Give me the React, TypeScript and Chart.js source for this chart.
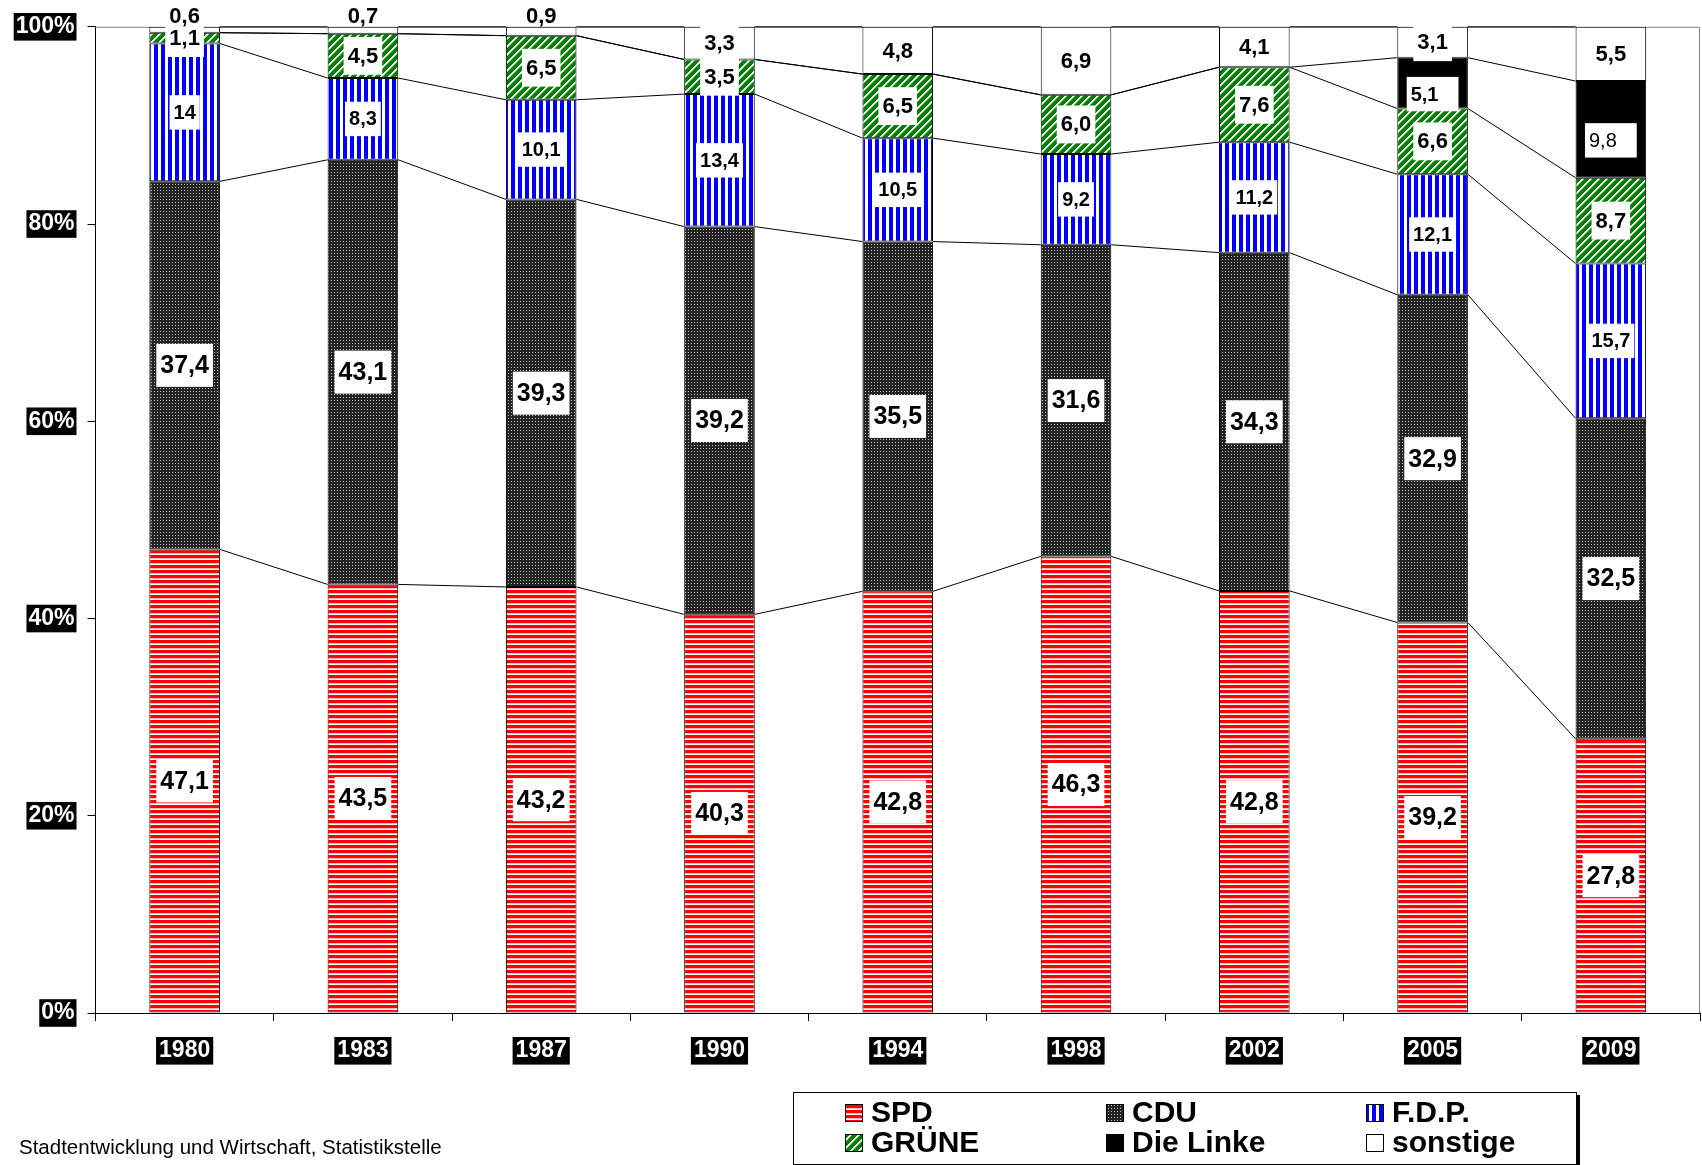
import { useEffect, useRef } from 'react';
import { Chart, registerables } from 'chart.js';

Chart.register(...registerables);

// ---------------- data ----------------
const YEARS = ['1980', '1983', '1987', '1990', '1994', '1998', '2002', '2005', '2009'];
const SPD = [47.1, 43.5, 43.2, 40.3, 42.8, 46.3, 42.8, 39.2, 27.8];
const CDU = [37.4, 43.1, 39.3, 39.2, 35.5, 31.6, 34.3, 32.9, 32.5];
const FDP = [14, 8.3, 10.1, 13.4, 10.5, 9.2, 11.2, 12.1, 15.7];
const GRUENE = [1.1, 4.5, 6.5, 3.5, 6.5, 6.0, 7.6, 6.6, 8.7];
const LINKE = [0, 0, 0, 0, 0, 0, 0, 5.1, 9.8];
const SONSTIGE = [0.6, 0.7, 0.9, 3.3, 4.8, 6.9, 4.1, 3.1, 5.5];
const SERIES_NAMES = ['SPD', 'CDU', 'F.D.P.', 'GRÜNE', 'Die Linke', 'sonstige'];
const SERIES_VALUES = [SPD, CDU, FDP, GRUENE, LINKE, SONSTIGE];
const Y_TICKS = [0, 20, 40, 60, 80, 100];
const SOURCE_TEXT = 'Stadtentwicklung und Wirtschaft, Statistikstelle';

// ---------------- styles ----------------
const FONT = '"Liberation Sans", Arial, Helvetica, sans-serif';
const W = 1702;
const H = 1165;

type LabelStyle = { size: number; dy?: number; extraRight?: number; plainYears?: string[] };
const LABEL_STYLES: Record<string, LabelStyle> = {
  SPD: { size: 25 },
  CDU: { size: 25 },
  'F.D.P.': { size: 20 },
  'GRÜNE': { size: 22 },
  'Die Linke': { size: 20, dy: 11, extraRight: 16, plainYears: ['2009'] },
  sonstige: { size: 22 },
};

function fmt(v: number): string {
  if (Number.isInteger(v) && v >= 10) return String(v);
  return v.toFixed(1).replace('.', ',');
}

function makeFills(ctx: CanvasRenderingContext2D): (CanvasPattern | string)[] {
  const mk = (w: number, h: number, paint: (g: CanvasRenderingContext2D) => void) => {
    const c = document.createElement('canvas');
    c.width = w;
    c.height = h;
    const g = c.getContext('2d')!;
    paint(g);
    return ctx.createPattern(c, 'repeat')!;
  };
  const spd = mk(1, 5, (g) => {
    g.fillStyle = '#ffffff';
    g.fillRect(0, 0, 1, 5);
    g.fillStyle = '#ff0000';
    g.fillRect(0, 0, 1, 3);
    g.fillStyle = '#ffb8b8';
    g.fillRect(0, 3, 1, 1);
  });
  const cdu = mk(3, 3, (g) => {
    g.fillStyle = '#232323';
    g.fillRect(0, 0, 3, 3);
    g.fillStyle = '#c4c4c4';
    g.fillRect(1, 1, 1, 1);
  });
  const fdp = mk(7, 1, (g) => {
    g.fillStyle = '#ffffff';
    g.fillRect(0, 0, 7, 1);
    g.fillStyle = '#0000ff';
    g.fillRect(0, 0, 4, 1);
  });
  const gru = mk(8, 8, (g) => {
    for (let y = 0; y < 8; y++) {
      for (let x = 0; x < 8; x++) {
        const d = (x + y) % 8;
        g.fillStyle = d === 0 || d === 1 ? '#ffffff' : d === 2 ? '#8cc88c' : '#008000';
        g.fillRect(x, y, 1, 1);
      }
    }
  });
  return [spd, cdu, fdp, gru, '#000000', '#ffffff'];
}

const overlayPlugin = {
  id: 'overlay',
  beforeDatasetsDraw(chart: any) {
    const { ctx, chartArea: a } = chart;
    ctx.save();
    ctx.strokeStyle = '#7f7f7f';
    ctx.lineWidth = 1;
    ctx.beginPath();
    ctx.moveTo(a.left, a.top + 0.5);
    ctx.lineTo(a.right - 0.5, a.top + 0.5);
    ctx.lineTo(a.right - 0.5, a.bottom);
    ctx.stroke();
    ctx.restore();
  },
  afterDatasetsDraw(chart: any) {
    const { ctx } = chart;
    const datasets = chart.data.datasets;
    const metas = datasets.map((_: any, di: number) => chart.getDatasetMeta(di));
    ctx.save();
    // series lines
    ctx.strokeStyle = '#000';
    ctx.lineWidth = 1;
    metas.forEach((meta: any) => {
      for (let i = 0; i < meta.data.length - 1; i++) {
        const p = meta.data[i];
        const q = meta.data[i + 1];
        ctx.beginPath();
        ctx.moveTo(p.x + p.width / 2, p.y);
        ctx.lineTo(q.x - q.width / 2, q.y);
        ctx.stroke();
      }
    });
    // data labels
    const topMeta = metas[metas.length - 1];
    datasets.forEach((ds: any, di: number) => {
      const st = LABEL_STYLES[ds.label];
      metas[di].data.forEach((bar: any, i: number) => {
        const v = ds.rawValues[i];
        if (!v) return;
        const text = fmt(v);
        const weight = st.plainYears && st.plainYears.includes(YEARS[i]) ? 'normal' : 'bold';
        ctx.font = `${weight} ${st.size}px ${FONT}`;
        const tw = ctx.measureText(text).width;
        if (v < 1) {
          const stackTop = topMeta.data[i].y;
          ctx.fillStyle = '#000';
          ctx.textAlign = 'center';
          ctx.textBaseline = 'alphabetic';
          ctx.fillText(text, bar.x, stackTop - 4);
          return;
        }
        const top = Math.min(bar.y, bar.base);
        const bot = Math.max(bar.y, bar.base);
        const cy = (top + bot) / 2 + (st.dy || 0);
        const bh = st.size * 1.72;
        const bw = tw + 8 + (st.extraRight || 0);
        const bx = bar.x - bw / 2;
        ctx.fillStyle = '#fff';
        ctx.fillRect(bx, cy - bh / 2, bw, bh);
        ctx.fillStyle = '#000';
        ctx.textAlign = 'left';
        ctx.textBaseline = 'middle';
        ctx.fillText(text, bx + 4, cy + 1);
      });
    });
    ctx.restore();
  },
  afterDraw(chart: any) {
    const { ctx } = chart;
    const datasets = chart.data.datasets;
    ctx.save();
    // legend box
    const L = { x: 793, y: 1092, w: 783, h: 72 };
    ctx.fillStyle = '#000';
    ctx.fillRect(L.x + L.w, L.y + 3, 4, L.h + 10);
    ctx.fillStyle = '#fff';
    ctx.fillRect(L.x, L.y, L.w, L.h);
    ctx.strokeStyle = '#000';
    ctx.lineWidth = 1;
    ctx.strokeRect(L.x + 0.5, L.y + 0.5, L.w, L.h);
    const colX = [845, 1106, 1366];
    const rowY = [1113, 1143];
    ctx.font = `bold 30px ${FONT}`;
    ctx.textAlign = 'left';
    ctx.textBaseline = 'middle';
    datasets.forEach((ds: any, k: number) => {
      const ix = colX[k % 3];
      const cy = rowY[Math.floor(k / 3)];
      const iy = Math.round(cy - 9);
      ctx.fillStyle = ds.backgroundColor;
      ctx.fillRect(ix, iy, 18, 18);
      ctx.strokeStyle = '#000';
      ctx.strokeRect(ix + 0.5, iy + 0.5, 17, 17);
      ctx.fillStyle = '#000';
      ctx.fillText(ds.label, ix + 26, cy + 1);
    });
    // source text
    ctx.font = `20.5px ${FONT}`;
    ctx.fillStyle = '#000';
    ctx.textBaseline = 'middle';
    ctx.fillText(SOURCE_TEXT, 19, 1148);
    ctx.restore();
  },
};

export default function App() {
  const ref = useRef<HTMLCanvasElement>(null);
  useEffect(() => {
    document.body.style.margin = '0';
    const canvas = ref.current!;
    const ctx = canvas.getContext('2d')!;
    const fills = makeFills(ctx);
    const totals = YEARS.map((_, i) => SERIES_VALUES.reduce((s, arr) => s + arr[i], 0));
    Chart.defaults.font.family = FONT;
    const chart = new Chart(canvas, {
      type: 'bar',
      data: {
        labels: YEARS,
        datasets: SERIES_NAMES.map((name, k) => ({
          label: name,
          data: SERIES_VALUES[k].map((v, i) => (v / totals[i]) * 100),
          rawValues: SERIES_VALUES[k],
          backgroundColor: fills[k],
          borderColor: '#000',
          borderWidth: 1,
          borderSkipped: false,
          barPercentage: 0.396,
          categoryPercentage: 1,
        })) as any,
      },
      options: {
        responsive: false,
        maintainAspectRatio: false,
        animation: false,
        devicePixelRatio: 1,
        layout: { padding: { top: 26, right: 2, left: 0, bottom: 0 } },
        plugins: { legend: { display: false }, tooltip: { enabled: false } },
        scales: {
          x: {
            stacked: true,
            grid: { offset: true, drawOnChartArea: false, drawTicks: true, tickLength: 8, color: '#000', lineWidth: 1 },
            border: { display: true, color: '#000', width: 1 },
            ticks: {
              color: '#fff',
              font: { size: 23, weight: 'bold', family: FONT },
              padding: 16,
              showLabelBackdrop: true,
              backdropColor: '#000',
              backdropPadding: { left: 3, right: 3, top: 0, bottom: 0 },
              maxRotation: 0,
              autoSkip: false,
            },
            afterFit: (s: any) => {
              s.height = 152;
            },
          },
          y: {
            stacked: true,
            min: 0,
            max: 100,
            grid: { drawOnChartArea: false, drawTicks: true, tickLength: 8, color: '#000', lineWidth: 1 },
            border: { display: true, color: '#000', width: 1 },
            afterBuildTicks: (s: any) => {
              s.ticks = Y_TICKS.map((v) => ({ value: v }));
            },
            ticks: {
              color: '#fff',
              font: { size: 23, weight: 'bold', family: FONT },
              padding: 13,
              showLabelBackdrop: true,
              backdropColor: '#000',
              backdropPadding: { left: 2, right: 2, top: 0, bottom: 0 },
              callback: (v: any) => `${v}%`,
            },
            afterFit: (s: any) => {
              s.width = 95.5;
            },
          },
        },
      } as any,
      plugins: [overlayPlugin],
    });
    return () => chart.destroy();
  }, []);
  return (
    <div style={{ width: W, height: H, overflow: 'hidden' }}>
      <canvas ref={ref} width={W} height={H} style={{ display: 'block', width: W, height: H }} />
    </div>
  );
}
